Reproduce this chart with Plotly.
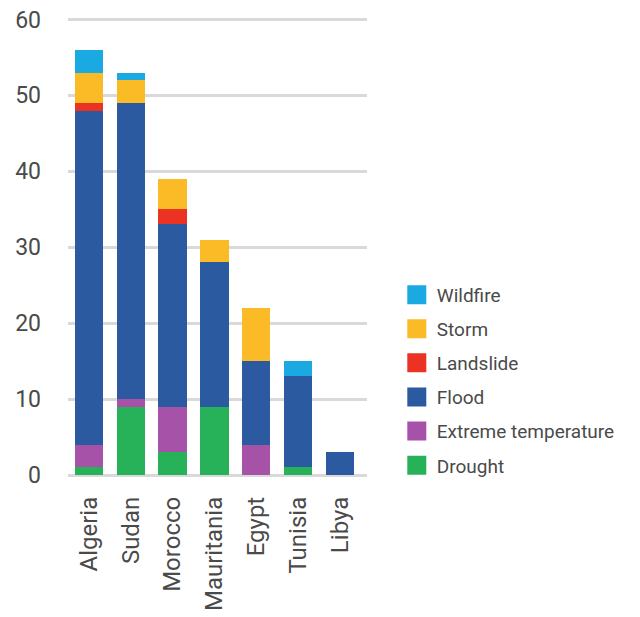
import plotly.graph_objects as go

countries = ["Algeria", "Sudan", "Morocco", "Mauritania", "Egypt", "Tunisia", "Libya"]

# disaster counts per country, one list per hazard type (stacked bottom to top)
drought = [1, 9, 3, 9, 0, 1, 0]
extreme_temperature = [3, 1, 6, 0, 4, 0, 0]
flood = [44, 39, 24, 19, 11, 12, 3]
landslide = [1, 0, 2, 0, 0, 0, 0]
storm = [4, 3, 4, 3, 7, 0, 0]
wildfire = [3, 1, 0, 0, 0, 2, 0]

series = [
    ("Drought", drought, "#27b25a"),
    ("Extreme temperature", extreme_temperature, "#a652a9"),
    ("Flood", flood, "#2c5aa0"),
    ("Landslide", landslide, "#ea3323"),
    ("Storm", storm, "#fbbb27"),
    ("Wildfire", wildfire, "#1aa9e0"),
]

label_font = "Roboto, sans-serif"
text_color = "#4a4a4a"
grid_color = "#d9d9d9"

fig = go.Figure()
for name, values, color in series:
    fig.add_trace(go.Bar(
        x=countries, y=values, name=name,
        marker=dict(color=color, line=dict(width=0)),
        showlegend=False,
    ))

# legend entries, top-most hazard first, drawn as larger square swatches
for name, values, color in reversed(series):
    fig.add_trace(go.Scatter(
        x=[None], y=[None], mode="markers", name=name,
        legendgroup=name,
        marker=dict(symbol="square", size=16, color=color,
                    line=dict(color=color, width=3)),
    ))

fig.update_layout(
    width=640, height=617,
    barmode="stack", bargap=0.32,
    plot_bgcolor="white", paper_bgcolor="white",
    margin=dict(l=68, r=273, t=18, b=142, pad=0),
    showlegend=True,
    legend=dict(
        xref="container", yref="container",
        x=0.620, y=0.553, xanchor="left", yanchor="top",
        traceorder="grouped", tracegroupgap=6.4,
        itemsizing="trace",
        font=dict(family="Roboto, Liberation Sans, sans-serif", size=19, color=text_color),
        bgcolor="rgba(0,0,0,0)",
    ),
    xaxis=dict(
        range=[-0.5, 6.65], tickangle=-90, showgrid=False, showline=False,
        ticks="", ticklabelstandoff=16, automargin=False,
        tickfont=dict(family=label_font, size=24, color=text_color),
    ),
    yaxis=dict(
        range=[0, 60.2], tickvals=[0, 10, 20, 30, 40, 50, 60],
        showgrid=True, gridcolor=grid_color, gridwidth=2.5,
        zeroline=True, zerolinecolor=grid_color, zerolinewidth=2.5,
        showline=False, ticks="", ticklabelstandoff=26, automargin=False,
        tickfont=dict(family=label_font, size=23, color=text_color),
    ),
)

fig.write_html("out.html")
